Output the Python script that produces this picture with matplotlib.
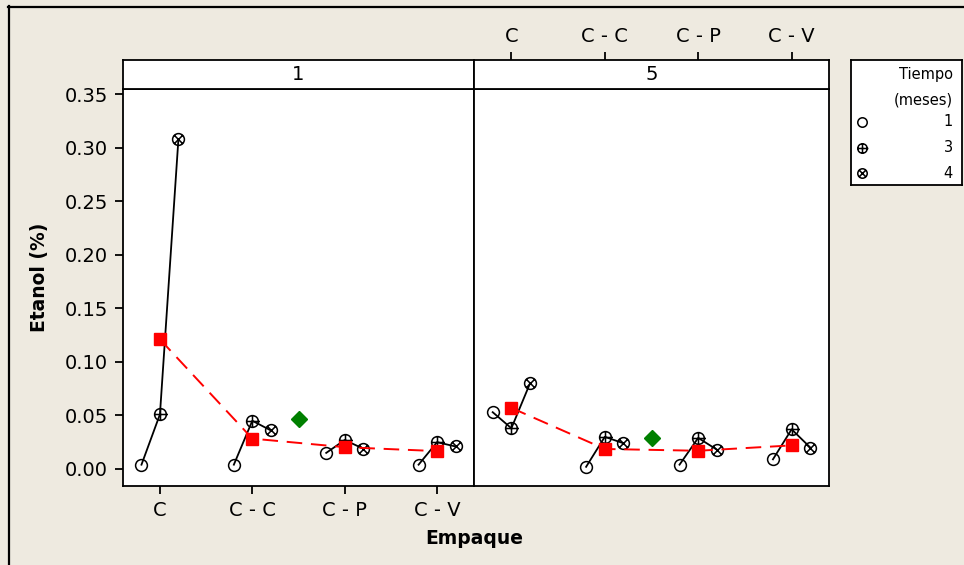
import matplotlib
matplotlib.use("Agg")
import matplotlib.pyplot as plt
import numpy as np
from matplotlib.path import Path
from matplotlib.lines import Line2D

# ---- data ----
empaques = ["C", "C - C", "C - P", "C - V"]
tiempos = ["1", "3", "4"]
paneles = ["1", "5"]

etanol_p1_t1 = [0.004, 0.004, 0.015, 0.004]
etanol_p1_t3 = [0.051, 0.045, 0.027, 0.025]
etanol_p1_t4 = [0.308, 0.036, 0.019, 0.021]

etanol_p5_t1 = [0.053, 0.002, 0.004, 0.009]
etanol_p5_t3 = [0.038, 0.030, 0.029, 0.037]
etanol_p5_t4 = [0.080, 0.024, 0.018, 0.020]

panel_data = {
    "1": [etanol_p1_t1, etanol_p1_t3, etanol_p1_t4],
    "5": [etanol_p5_t1, etanol_p5_t3, etanol_p5_t4],
}

# ---- marker shapes ----
M, L = Path.MOVETO, Path.LINETO
circ = Path.unit_circle()
plus_arms = Path([(-1, 0), (1.25, 0), (0, -1), (0, 1)], [M, L, M, L])
d = 0.7071
cross_arms = Path([(-d, -d), (d, d), (-d, d), (d, -d)], [M, L, M, L])
m_circle = circ
m_plus = Path.make_compound_path(circ, plus_arms)
m_cross = Path.make_compound_path(circ, cross_arms)
markers = [(m_circle, 1.0), (m_plus, 1.25), (m_cross, 1.0)]

BG = "#EEEAE0"
W, H = 964, 565
fig = plt.figure(figsize=(W / 100, H / 100), dpi=100, facecolor=BG)


def fx(px):
    return px / W


def fy(py):
    return 1 - py / H


plt.rcParams["font.family"] = "DejaVu Sans"
TICK_FS = 14
SPINE_W = 1.3

x = np.arange(len(empaques))
off = 0.2
ylo, yhi = -0.0159, 0.3547
panels_px = [(123, 474), (474, 829)]
top_px, bot_px, strip_top = 89, 486, 60

axes = []
for i, (name, (l, r)) in enumerate(zip(paneles, panels_px)):
    ax = fig.add_axes([fx(l), fy(bot_px), fx(r - l), fy(top_px) - fy(bot_px)])
    ax.set_facecolor("white")
    ax.set_xlim(-0.4, 3.4)
    ax.set_ylim(ylo, yhi)
    series = panel_data[name]
    vals = np.array(series)
    # individual values per packaging, joined in time order
    for j in range(len(empaques)):
        xs = [x[j] - off, x[j], x[j] + off]
        ys = [series[k][j] for k in range(3)]
        ax.plot(xs, ys, color="black", lw=1.3, zorder=2)
        for k, (mk, sc) in enumerate(markers):
            ax.plot(xs[k], ys[k], linestyle="none", marker=mk,
                    markersize=8.5 * sc, markerfacecolor="none",
                    markeredgecolor="black", markeredgewidth=1.1, zorder=3)
    means = vals.mean(axis=0)
    ax.plot(x, means, color="red", lw=1.4, linestyle=(0, (8, 4.5)),
            marker="s", markersize=8.5, markerfacecolor="red",
            markeredgecolor="red", zorder=4)
    ax.plot([1.5], [means.mean()], marker="D", markersize=8,
            color="green", linestyle="none", zorder=4)

    for s in ax.spines.values():
        s.set_linewidth(SPINE_W)
    ax.set_xticks(x)
    ax.set_yticks(np.arange(0, 0.351, 0.05))
    ax.set_yticklabels([f"{v:.2f}" for v in np.arange(0, 0.351, 0.05)])
    ax.tick_params(axis="both", length=6, width=SPINE_W, labelsize=TICK_FS,
                   pad=5)
    if i == 0:
        ax.set_xticklabels(empaques)
        ax.tick_params(axis="x", bottom=True, labelbottom=True)
    else:
        ax.tick_params(axis="x", bottom=False, labelbottom=False)
        ax.tick_params(axis="y", left=False, labelleft=False)
    axes.append(ax)

    # strip header
    sax = fig.add_axes([fx(l), fy(top_px), fx(r - l), fy(strip_top) - fy(top_px)])
    sax.set_facecolor("white")
    sax.set_xlim(-0.4, 3.4)
    sax.set_ylim(0, 1)
    sax.set_yticks([])
    for s in sax.spines.values():
        s.set_linewidth(SPINE_W)
    sax.text(1.5, 0.5, name, ha="center", va="center", fontsize=TICK_FS)
    if i == 1:
        sax.set_xticks(x)
        sax.set_xticklabels(empaques)
        sax.tick_params(axis="x", top=True, labeltop=True, bottom=False,
                        labelbottom=False, length=6, width=SPINE_W,
                        labelsize=TICK_FS, pad=4)
    else:
        sax.set_xticks([])

fig.text(fx(40), fy(277), "Etanol (%)", rotation=90, ha="center",
         va="center", fontsize=13.5, fontweight="bold")
fig.text(fx(474), fy(538), "Empaque", ha="center", va="center",
         fontsize=13.5, fontweight="bold")

# legend box
lx0, lx1, ly0, ly1 = 851, 962, 60, 185
lax = fig.add_axes([fx(lx0), fy(ly1), fx(lx1 - lx0), fy(ly0) - fy(ly1)])
lax.set_xlim(0, lx1 - lx0)
lax.set_ylim(ly1 - ly0, 0)
lax.set_facecolor("white")
lax.set_xticks([])
lax.set_yticks([])
for s in lax.spines.values():
    s.set_linewidth(SPINE_W)
LFS = 10.5
lax.text(102, 15, "Tiempo", ha="right", va="center", fontsize=LFS)
lax.text(102, 40, "(meses)", ha="right", va="center", fontsize=LFS)
for k, (t, (mk, sc)) in enumerate(zip(tiempos, markers)):
    yy = 62 + 25.5 * k
    lax.plot(11, yy, marker=mk, markersize=6.8 * sc, markerfacecolor="none",
             markeredgecolor="black", markeredgewidth=1.1, linestyle="none")
    lax.text(102, yy, t, ha="right", va="center", fontsize=LFS)

# outer frame lines (top and left)
fig.add_artist(Line2D([fx(8), 1], [fy(6.5), fy(6.5)], color="black", lw=1.6))
fig.add_artist(Line2D([fx(8.5), fx(8.5)], [0, fy(6)], color="black", lw=1.6))

fig.savefig("out.png", dpi=100, facecolor=BG)
